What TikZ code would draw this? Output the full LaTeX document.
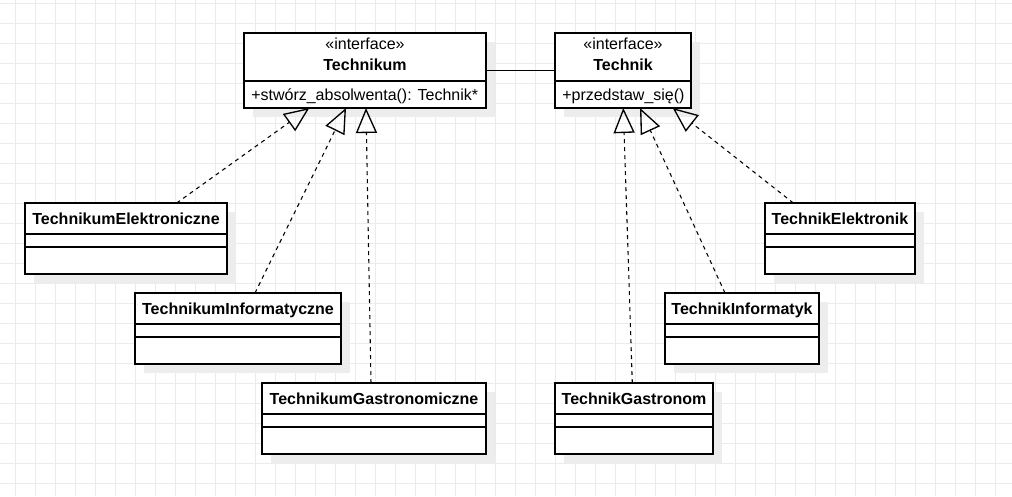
\documentclass[tikz,border=0pt]{standalone}
\usepackage{fontspec}
\setmainfont{Liberation Sans}
\usetikzlibrary{arrows.meta,calc,fit,shadows}
\newcommand{\umlclass}[6]{%
  \node[umlbox, fit={(#2,#3) (#4,#5)}] (#1) {};
  \draw[divider] ($(#1.north west)+(0,31)$) -- ($(#1.north east)+(0,31)$);
  \draw[divider] ($(#1.north west)+(0,44)$) -- ($(#1.north east)+(0,44)$);
  \node[ttl] (#1-t) at ($(#1.north)+(0,21.3)$) {#6};
}
\begin{document}
\begin{tikzpicture}[x=0.75pt,y=-0.75pt,
  umlbox/.style={draw=black, line width=1pt, fill=white, inner sep=0pt, outer sep=0pt,
    drop shadow={shadow xshift=6.4pt, shadow yshift=-6.4pt, fill=black!7, opacity=1}},
  divider/.style={draw=black, line width=1pt},
  ttl/.style={font=\fontsize{12}{14}\selectfont\bfseries, inner sep=0pt, anchor=base},
  stereo/.style={font=\fontsize{12}{14}\selectfont, inner sep=0pt, anchor=base},
  meth/.style={font=\fontsize{12}{14}\selectfont, inner sep=0pt, anchor=base west},
  realize/.style={draw=black, line width=0.8pt, dash pattern=on 3pt off 3pt,
    -{Triangle[open, length=18.75pt, width=15.75pt, line width=1pt]}},
  assoc/.style={draw=black, line width=1pt},
  gridline/.style={draw=black!8, line width=0.75pt}]
\fill[white] (0,0) rectangle (1012,496);
\useasboundingbox (0,0) rectangle (1012,496);
\foreach \gx in {15,35,...,1015} \draw[gridline] (\gx,0) -- (\gx,496);
\foreach \gy in {3,23,...,483} \draw[gridline] (0,\gy) -- (1012,\gy);

% interfaces
\node[umlbox, fit={(244,33) (486,108)}] (tm) {};
\draw[divider] ($(tm.north west)+(0,48)$) -- ($(tm.north east)+(0,48)$);
\node[stereo] (tmS) at ($(tm.north)+(0,16.3)$) {«interface»};
\node[ttl] (tmT) at ($(tm.north)+(0,37.7)$) {Technikum};
\node[meth] (tmM) at ($(tm.north west)+(7,67)$) {+stwórz\_absolwenta(): Technik*};

\node[umlbox, fit={(555,33) (691,108)}] (tk) {};
\draw[divider] ($(tk.north west)+(0,48)$) -- ($(tk.north east)+(0,48)$);
\node[stereo] (tkS) at ($(tk.north)+(0,16.3)$) {«interface»};
\node[ttl] (tkT) at ($(tk.north)+(0,37.7)$) {Technik};
\node[meth] (tkM) at ($(tk.north west)+(7,67)$) {+przedstaw\_się()};

% classes
\umlclass{tE}{25}{203}{227}{274}{TechnikumElektroniczne}
\umlclass{tI}{135}{293}{341}{364}{TechnikumInformatyczne}
\umlclass{tG}{262}{383}{486}{454}{TechnikumGastronomiczne}
\umlclass{kE}{765}{203}{915}{274}{TechnikElektronik}
\umlclass{kI}{665}{293}{819}{364}{TechnikInformatyk}
\umlclass{kG}{555}{383}{713}{454}{TechnikGastronom}

% connectors
\draw[assoc] (tm.east) -- (tk.west);
\draw[realize] ($(tE.north west)+(151.7,0)$) -- ($(tm.south west)+(65.3,0)$);
\draw[realize] ($(tI.north west)+(120,0)$) -- ($(tm.south west)+(102,0)$);
\draw[realize] ($(tG.north west)+(109,0)$) -- ($(tm.south west)+(122,0)$);
\draw[realize] ($(kE.north west)+(28.3,0)$) -- ($(tk.south west)+(117.7,0)$);
\draw[realize] ($(kI.north west)+(60,0)$) -- ($(tk.south west)+(85,0)$);
\draw[realize] ($(kG.north west)+(77.3,0)$) -- ($(tk.south west)+(68.3,0)$);
\end{tikzpicture}
\end{document}
